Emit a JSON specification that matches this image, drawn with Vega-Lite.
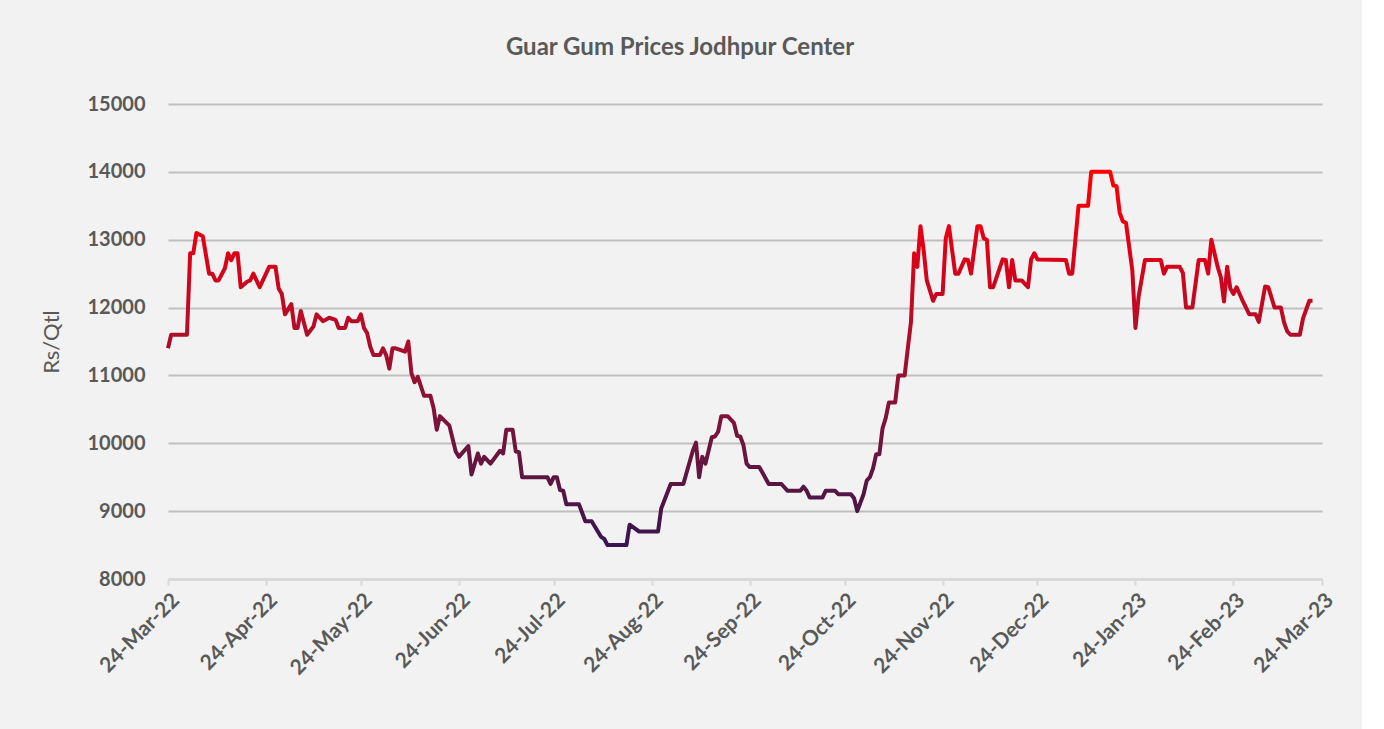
{
  "$schema": "https://vega.github.io/schema/vega-lite/v6.json",
  "width": 1154,
  "height": 475,
  "autosize": {"type": "none"},
  "padding": {"left": 168, "top": 104, "right": 40, "bottom": 150},
  "background": "#f2f2f2",
  "config": {"view": {"stroke": null}, "font": "Lato"},
  "title": {
    "text": "Guar Gum Prices Jodhpur Center",
    "font": "Lato",
    "fontSize": 24,
    "fontWeight": "bold",
    "color": "#595959",
    "anchor": "middle",
    "frame": "group",
    "dx": -65,
    "offset": 34
  },
  "data": {
    "values": [
      {"date": "2022-03-24", "price": 11400},
      {"date": "2022-03-25", "price": 11600},
      {"date": "2022-03-30", "price": 11600},
      {"date": "2022-03-31", "price": 12800},
      {"date": "2022-04-01", "price": 12800},
      {"date": "2022-04-02", "price": 13100},
      {"date": "2022-04-04", "price": 13050},
      {"date": "2022-04-06", "price": 12500},
      {"date": "2022-04-07", "price": 12500},
      {"date": "2022-04-08", "price": 12400},
      {"date": "2022-04-09", "price": 12400},
      {"date": "2022-04-11", "price": 12580},
      {"date": "2022-04-12", "price": 12800},
      {"date": "2022-04-13", "price": 12700},
      {"date": "2022-04-14", "price": 12800},
      {"date": "2022-04-15", "price": 12800},
      {"date": "2022-04-16", "price": 12300},
      {"date": "2022-04-18", "price": 12380},
      {"date": "2022-04-19", "price": 12400},
      {"date": "2022-04-20", "price": 12500},
      {"date": "2022-04-22", "price": 12300},
      {"date": "2022-04-25", "price": 12600},
      {"date": "2022-04-27", "price": 12600},
      {"date": "2022-04-28", "price": 12280},
      {"date": "2022-04-29", "price": 12200},
      {"date": "2022-04-30", "price": 11900},
      {"date": "2022-05-02", "price": 12050},
      {"date": "2022-05-03", "price": 11700},
      {"date": "2022-05-04", "price": 11700},
      {"date": "2022-05-05", "price": 11950},
      {"date": "2022-05-07", "price": 11600},
      {"date": "2022-05-09", "price": 11720},
      {"date": "2022-05-10", "price": 11900},
      {"date": "2022-05-12", "price": 11800},
      {"date": "2022-05-14", "price": 11850},
      {"date": "2022-05-16", "price": 11820},
      {"date": "2022-05-17", "price": 11700},
      {"date": "2022-05-19", "price": 11700},
      {"date": "2022-05-20", "price": 11850},
      {"date": "2022-05-21", "price": 11800},
      {"date": "2022-05-23", "price": 11800},
      {"date": "2022-05-24", "price": 11900},
      {"date": "2022-05-25", "price": 11700},
      {"date": "2022-05-26", "price": 11620},
      {"date": "2022-05-27", "price": 11420},
      {"date": "2022-05-28", "price": 11300},
      {"date": "2022-05-30", "price": 11300},
      {"date": "2022-05-31", "price": 11400},
      {"date": "2022-06-01", "price": 11300},
      {"date": "2022-06-02", "price": 11100},
      {"date": "2022-06-03", "price": 11400},
      {"date": "2022-06-04", "price": 11400},
      {"date": "2022-06-07", "price": 11350},
      {"date": "2022-06-08", "price": 11500},
      {"date": "2022-06-09", "price": 11030},
      {"date": "2022-06-10", "price": 10900},
      {"date": "2022-06-11", "price": 10980},
      {"date": "2022-06-13", "price": 10700},
      {"date": "2022-06-15", "price": 10700},
      {"date": "2022-06-16", "price": 10520},
      {"date": "2022-06-17", "price": 10200},
      {"date": "2022-06-18", "price": 10400},
      {"date": "2022-06-21", "price": 10260},
      {"date": "2022-06-23", "price": 9880},
      {"date": "2022-06-24", "price": 9800},
      {"date": "2022-06-27", "price": 9960},
      {"date": "2022-06-28", "price": 9540},
      {"date": "2022-06-30", "price": 9850},
      {"date": "2022-07-01", "price": 9700},
      {"date": "2022-07-02", "price": 9800},
      {"date": "2022-07-04", "price": 9700},
      {"date": "2022-07-07", "price": 9890},
      {"date": "2022-07-08", "price": 9850},
      {"date": "2022-07-09", "price": 10200},
      {"date": "2022-07-11", "price": 10200},
      {"date": "2022-07-12", "price": 9880},
      {"date": "2022-07-13", "price": 9870},
      {"date": "2022-07-14", "price": 9500},
      {"date": "2022-07-22", "price": 9500},
      {"date": "2022-07-23", "price": 9400},
      {"date": "2022-07-24", "price": 9500},
      {"date": "2022-07-25", "price": 9500},
      {"date": "2022-07-26", "price": 9310},
      {"date": "2022-07-27", "price": 9300},
      {"date": "2022-07-28", "price": 9100},
      {"date": "2022-08-01", "price": 9100},
      {"date": "2022-08-03", "price": 8850},
      {"date": "2022-08-05", "price": 8850},
      {"date": "2022-08-08", "price": 8620},
      {"date": "2022-08-09", "price": 8590},
      {"date": "2022-08-10", "price": 8500},
      {"date": "2022-08-16", "price": 8500},
      {"date": "2022-08-17", "price": 8800},
      {"date": "2022-08-20", "price": 8700},
      {"date": "2022-08-26", "price": 8700},
      {"date": "2022-08-27", "price": 9040},
      {"date": "2022-08-30", "price": 9400},
      {"date": "2022-09-03", "price": 9400},
      {"date": "2022-09-06", "price": 9890},
      {"date": "2022-09-07", "price": 10010},
      {"date": "2022-09-08", "price": 9500},
      {"date": "2022-09-09", "price": 9800},
      {"date": "2022-09-10", "price": 9700},
      {"date": "2022-09-12", "price": 10090},
      {"date": "2022-09-13", "price": 10100},
      {"date": "2022-09-14", "price": 10170},
      {"date": "2022-09-15", "price": 10400},
      {"date": "2022-09-17", "price": 10400},
      {"date": "2022-09-19", "price": 10300},
      {"date": "2022-09-20", "price": 10110},
      {"date": "2022-09-21", "price": 10100},
      {"date": "2022-09-22", "price": 9975},
      {"date": "2022-09-23", "price": 9700},
      {"date": "2022-09-24", "price": 9650},
      {"date": "2022-09-27", "price": 9650},
      {"date": "2022-09-28", "price": 9570},
      {"date": "2022-09-30", "price": 9400},
      {"date": "2022-10-04", "price": 9400},
      {"date": "2022-10-06", "price": 9300},
      {"date": "2022-10-10", "price": 9300},
      {"date": "2022-10-11", "price": 9360},
      {"date": "2022-10-12", "price": 9300},
      {"date": "2022-10-13", "price": 9200},
      {"date": "2022-10-17", "price": 9200},
      {"date": "2022-10-18", "price": 9300},
      {"date": "2022-10-21", "price": 9300},
      {"date": "2022-10-22", "price": 9250},
      {"date": "2022-10-26", "price": 9250},
      {"date": "2022-10-27", "price": 9190},
      {"date": "2022-10-28", "price": 9000},
      {"date": "2022-10-30", "price": 9250},
      {"date": "2022-10-31", "price": 9450},
      {"date": "2022-11-01", "price": 9500},
      {"date": "2022-11-02", "price": 9630},
      {"date": "2022-11-03", "price": 9840},
      {"date": "2022-11-04", "price": 9840},
      {"date": "2022-11-05", "price": 10220},
      {"date": "2022-11-06", "price": 10370},
      {"date": "2022-11-07", "price": 10600},
      {"date": "2022-11-09", "price": 10600},
      {"date": "2022-11-10", "price": 11000},
      {"date": "2022-11-12", "price": 11000},
      {"date": "2022-11-13", "price": 11400},
      {"date": "2022-11-14", "price": 11790},
      {"date": "2022-11-15", "price": 12800},
      {"date": "2022-11-16", "price": 12600},
      {"date": "2022-11-17", "price": 13200},
      {"date": "2022-11-18", "price": 12850},
      {"date": "2022-11-19", "price": 12400},
      {"date": "2022-11-21", "price": 12100},
      {"date": "2022-11-22", "price": 12200},
      {"date": "2022-11-24", "price": 12200},
      {"date": "2022-11-25", "price": 13020},
      {"date": "2022-11-26", "price": 13200},
      {"date": "2022-11-28", "price": 12500},
      {"date": "2022-11-29", "price": 12500},
      {"date": "2022-12-01", "price": 12710},
      {"date": "2022-12-02", "price": 12700},
      {"date": "2022-12-03", "price": 12500},
      {"date": "2022-12-05", "price": 13200},
      {"date": "2022-12-06", "price": 13200},
      {"date": "2022-12-07", "price": 13020},
      {"date": "2022-12-08", "price": 13000},
      {"date": "2022-12-09", "price": 12300},
      {"date": "2022-12-10", "price": 12300},
      {"date": "2022-12-13", "price": 12710},
      {"date": "2022-12-14", "price": 12700},
      {"date": "2022-12-15", "price": 12300},
      {"date": "2022-12-16", "price": 12700},
      {"date": "2022-12-17", "price": 12400},
      {"date": "2022-12-19", "price": 12400},
      {"date": "2022-12-21", "price": 12300},
      {"date": "2022-12-22", "price": 12710},
      {"date": "2022-12-23", "price": 12800},
      {"date": "2022-12-24", "price": 12710},
      {"date": "2023-01-02", "price": 12700},
      {"date": "2023-01-03", "price": 12500},
      {"date": "2023-01-04", "price": 12500},
      {"date": "2023-01-06", "price": 13500},
      {"date": "2023-01-09", "price": 13500},
      {"date": "2023-01-10", "price": 14000},
      {"date": "2023-01-16", "price": 14000},
      {"date": "2023-01-17", "price": 13800},
      {"date": "2023-01-18", "price": 13790},
      {"date": "2023-01-19", "price": 13400},
      {"date": "2023-01-20", "price": 13270},
      {"date": "2023-01-21", "price": 13250},
      {"date": "2023-01-23", "price": 12550},
      {"date": "2023-01-24", "price": 11700},
      {"date": "2023-01-25", "price": 12160},
      {"date": "2023-01-27", "price": 12700},
      {"date": "2023-02-01", "price": 12700},
      {"date": "2023-02-02", "price": 12500},
      {"date": "2023-02-03", "price": 12600},
      {"date": "2023-02-07", "price": 12600},
      {"date": "2023-02-08", "price": 12510},
      {"date": "2023-02-09", "price": 12000},
      {"date": "2023-02-11", "price": 12000},
      {"date": "2023-02-13", "price": 12700},
      {"date": "2023-02-15", "price": 12700},
      {"date": "2023-02-16", "price": 12500},
      {"date": "2023-02-17", "price": 13000},
      {"date": "2023-02-19", "price": 12600},
      {"date": "2023-02-20", "price": 12450},
      {"date": "2023-02-21", "price": 12090},
      {"date": "2023-02-22", "price": 12600},
      {"date": "2023-02-23", "price": 12280},
      {"date": "2023-02-24", "price": 12200},
      {"date": "2023-02-25", "price": 12300},
      {"date": "2023-02-27", "price": 12090},
      {"date": "2023-03-01", "price": 11900},
      {"date": "2023-03-03", "price": 11900},
      {"date": "2023-03-04", "price": 11790},
      {"date": "2023-03-06", "price": 12310},
      {"date": "2023-03-07", "price": 12300},
      {"date": "2023-03-09", "price": 12000},
      {"date": "2023-03-11", "price": 12000},
      {"date": "2023-03-12", "price": 11780},
      {"date": "2023-03-13", "price": 11650},
      {"date": "2023-03-14", "price": 11600},
      {"date": "2023-03-17", "price": 11600},
      {"date": "2023-03-18", "price": 11840},
      {"date": "2023-03-20", "price": 12100},
      {"date": "2023-03-21", "price": 12100}
    ]
  },
  "mark": {
    "type": "line",
    "strokeWidth": 4,
    "strokeJoin": "round",
    "color": {
      "gradient": "linear",
      "x1": 0, "y1": 0, "x2": 0, "y2": 1,
      "stops": [
        {"offset": 0, "color": "#ff0000"},
        {"offset": 0.2, "color": "#e00016"},
        {"offset": 0.4, "color": "#b80c26"},
        {"offset": 0.6, "color": "#8a1236"},
        {"offset": 0.8, "color": "#601640"},
        {"offset": 1, "color": "#3a1450"}
      ]
    }
  },
  "encoding": {
    "x": {
      "field": "date",
      "type": "temporal",
      "scale": {
        "type": "utc",
        "domain": [
          {"year": 2022, "month": 3, "date": 24, "utc": true},
          {"year": 2023, "month": 3, "date": 24, "utc": true}
        ]
      },
      "axis": {
        "title": null,
        "format": "%d-%b-%y",
        "values": [
          {"year": 2022, "month": 3, "date": 24, "utc": true},
          {"year": 2022, "month": 4, "date": 24, "utc": true},
          {"year": 2022, "month": 5, "date": 24, "utc": true},
          {"year": 2022, "month": 6, "date": 24, "utc": true},
          {"year": 2022, "month": 7, "date": 24, "utc": true},
          {"year": 2022, "month": 8, "date": 24, "utc": true},
          {"year": 2022, "month": 9, "date": 24, "utc": true},
          {"year": 2022, "month": 10, "date": 24, "utc": true},
          {"year": 2022, "month": 11, "date": 24, "utc": true},
          {"year": 2022, "month": 12, "date": 24, "utc": true},
          {"year": 2023, "month": 1, "date": 24, "utc": true},
          {"year": 2023, "month": 2, "date": 24, "utc": true},
          {"year": 2023, "month": 3, "date": 24, "utc": true}
        ],
        "labelAngle": -45,
        "labelFont": "Lato",
        "labelFontSize": 21,
        "labelFontWeight": "bold",
        "labelColor": "#595959",
        "labelPadding": 4,
        "labelOverlap": false,
        "labelFlush": false,
        "grid": false,
        "domainColor": "#d9d9d9",
        "domainWidth": 2,
        "tickColor": "#d9d9d9",
        "tickWidth": 2,
        "tickSize": 6
      }
    },
    "y": {
      "field": "price",
      "type": "quantitative",
      "scale": {"domain": [8000, 15000], "nice": false, "zero": false},
      "axis": {
        "title": "Rs/Qtl",
        "titleFont": "Lato",
        "titleFontSize": 22,
        "titleFontWeight": "normal",
        "titleColor": "#595959",
        "titlePadding": 24,
        "values": [8000, 9000, 10000, 11000, 12000, 13000, 14000, 15000],
        "format": "d",
        "labelFont": "Lato",
        "labelFontSize": 20,
        "labelFontWeight": "bold",
        "labelColor": "#595959",
        "labelPadding": 23,
        "ticks": false,
        "tickSize": 0,
        "domain": false,
        "grid": true,
        "gridColor": "#bfbfbf",
        "gridWidth": 2
      }
    }
  }
}
